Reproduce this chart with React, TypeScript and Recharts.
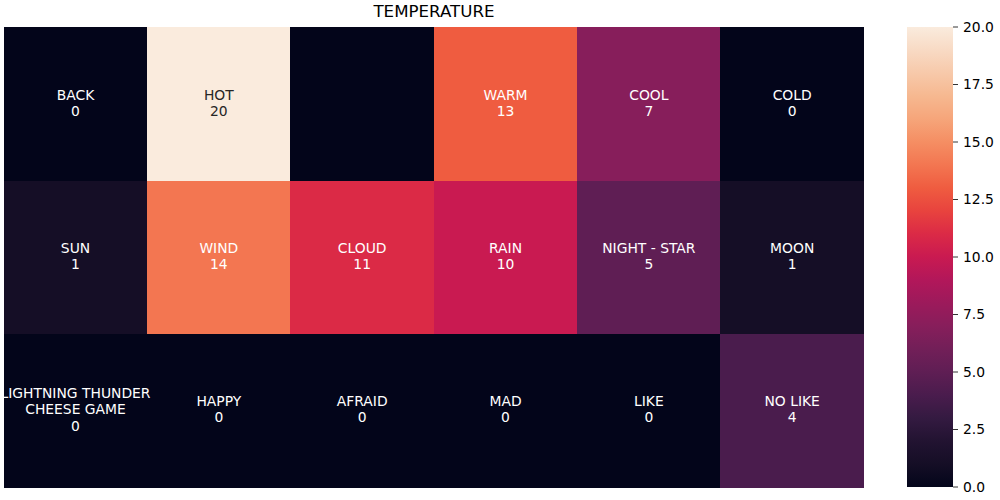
import React from 'react';
import { BarChart, Bar, XAxis, YAxis, Cell, LabelList } from 'recharts';

const TITLE = 'TEMPERATURE';
const COLUMNS = [0, 1, 2, 3, 4, 5];
const ROW0_LABELS: (string | null)[] = ['BACK', 'HOT', null, 'WARM', 'COOL', 'COLD'];
const ROW0_VALUES = [0, 20, 0, 13, 7, 0];
const ROW1_LABELS: (string | null)[] = ['SUN', 'WIND', 'CLOUD', 'RAIN', 'NIGHT - STAR', 'MOON'];
const ROW1_VALUES = [1, 14, 11, 10, 5, 1];
const ROW2_LABELS: (string | null)[] = ['LIGHTNING THUNDER\nCHEESE GAME', 'HAPPY', 'AFRAID', 'MAD', 'LIKE', 'NO LIKE'];
const ROW2_VALUES = [0, 0, 0, 0, 0, 4];
const VMIN = 0;
const VMAX = 20;
const CBAR_TICKS = [0, 2.5, 5, 7.5, 10, 12.5, 15, 17.5, 20];

const ROCKET = [
  '#03051A', '#150E26', '#221331', '#341A41', '#4A1C4D', '#5F1E54', '#721F58',
  '#871E5B', '#9C1A5B', '#B2175A', '#C91A51', '#DB2A46', '#E8433E', '#EF5C40',
  '#F37651', '#F58E63', '#F6A57A', '#F6B890', '#F7C9AA', '#F8DAC4', '#FAEBDD',
];

function hexToRgb(h: string) {
  return [parseInt(h.slice(1, 3), 16), parseInt(h.slice(3, 5), 16), parseInt(h.slice(5, 7), 16)];
}
function colorFor(v: number) {
  const t = Math.max(0, Math.min(1, (v - VMIN) / (VMAX - VMIN)));
  const p = t * (ROCKET.length - 1);
  const i = Math.min(ROCKET.length - 2, Math.floor(p));
  const f = p - i;
  const a = hexToRgb(ROCKET[i]);
  const b = hexToRgb(ROCKET[i + 1]);
  const c = a.map((x, k) => Math.round(x + (b[k] - x) * f));
  return `rgb(${c[0]},${c[1]},${c[2]})`;
}
function lightness(v: number) {
  return Math.max(0, Math.min(1, (v - VMIN) / (VMAX - VMIN)));
}

const ROWS = [
  { key: 'r0', labels: ROW0_LABELS, values: ROW0_VALUES },
  { key: 'r1', labels: ROW1_LABELS, values: ROW1_VALUES },
  { key: 'r2', labels: ROW2_LABELS, values: ROW2_VALUES },
];

const data = COLUMNS.map((c) => ({ col: c, r0: 1, r1: 1, r2: 1 }));

const FONT = 'DejaVu Sans, sans-serif';

function makeLabel(rowIdx: number) {
  return (p: any) => {
    const row = ROWS[rowIdx];
    const i = p.index;
    const lab = row.labels[i];
    if (lab == null) return null;
    const val = row.values[i];
    const lines = [...lab.split('\n'), String(val)];
    const cx = p.x + p.width / 2;
    const cy = p.y + p.height / 2 - 1;
    const lh = 16.2;
    const fill = lightness(val) > 0.85 ? '#262626' : '#ffffff';
    return (
      <g key={`lab-${rowIdx}-${i}`}>
        {lines.map((ln, k) => (
          <text
            key={k}
            x={cx}
            y={cy + (k - (lines.length - 1) / 2) * lh}
            textAnchor="middle"
            dominantBaseline="central"
            fontFamily={FONT}
            fontSize={13.89}
            fill={fill}
          >
            {ln}
          </text>
        ))}
      </g>
    );
  };
}

const cbarData = [{ name: 'cbar', v: VMAX }];

export default function App() {
  const stackOrder = [2, 1, 0];
  return (
    <div style={{ position: 'absolute', left: 0, top: 0, width: 1000, height: 500, background: '#fff' }}>
      <div
        style={{
          position: 'absolute',
          left: 4,
          width: 860,
          top: 0,
          height: 24,
          lineHeight: '24px',
          textAlign: 'center',
          fontFamily: FONT,
          fontSize: 16.67,
          color: '#000',
        }}
      >
        {TITLE}
      </div>
      <div style={{ position: 'absolute', left: 0, top: 0 }}>
        <BarChart
          width={880}
          height={500}
          data={data}
          margin={{ top: 27, left: 4, right: 16, bottom: 13 }}
          barCategoryGap={0}
          barGap={0}
        >
          <XAxis dataKey="col" hide />
          <YAxis type="number" domain={[0, 3]} hide />
          {stackOrder.map((r) => (
            <Bar key={ROWS[r].key} dataKey={ROWS[r].key} stackId="a" isAnimationActive={false}>
              {COLUMNS.map((c, i) => {
                const col = colorFor(ROWS[r].values[i]);
                return (
                  <Cell key={i} fill={col} stroke={col} strokeWidth={1} shapeRendering="crispEdges" />
                );
              })}
              <LabelList dataKey={ROWS[r].key} content={makeLabel(r)} />
            </Bar>
          ))}
        </BarChart>
      </div>
      <div style={{ position: 'absolute', left: 880, top: 0 }}>
        <BarChart
          width={120}
          height={500}
          data={cbarData}
          margin={{ top: 27, left: 27, right: 0, bottom: 13 }}
          barCategoryGap={0}
        >
          <defs>
            <linearGradient id="rocketGrad" x1="0" y1="1" x2="0" y2="0">
              {ROCKET.map((c, i) => (
                <stop key={i} offset={`${(i / (ROCKET.length - 1)) * 100}%`} stopColor={c} />
              ))}
            </linearGradient>
          </defs>
          <XAxis dataKey="name" hide />
          <YAxis
            type="number"
            orientation="right"
            domain={[VMIN, VMAX]}
            ticks={CBAR_TICKS}
            interval={0}
            width={47}
            axisLine={false}
            tickSize={5}
            tickMargin={5}
            tickLine={{ stroke: '#000', strokeWidth: 0.8 }}
            tickFormatter={(v: number) => v.toFixed(1)}
            tick={{ fill: '#000', fontFamily: FONT, fontSize: 13.89 }}
          />
          <Bar dataKey="v" fill="url(#rocketGrad)" isAnimationActive={false} />
        </BarChart>
      </div>
    </div>
  );
}
